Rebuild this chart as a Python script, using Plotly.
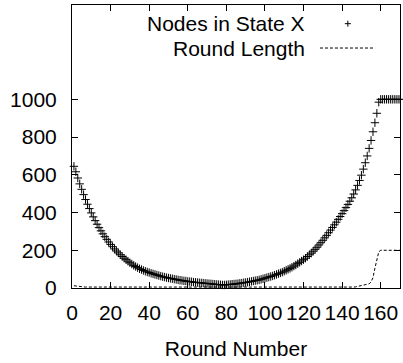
import plotly.graph_objects as go

rounds = list(range(1, 171))

nodes_in_state_x = [
    645, 616, 583, 552, 523, 495, 469, 444, 421, 398,
    377, 357, 338, 320, 303, 287, 272, 258, 244, 231,
    219, 207, 196, 186, 176, 167, 158, 150, 142, 134,
    127, 120, 114, 108, 102, 98, 93, 89, 85, 82,
    78, 75, 72, 69, 66, 63, 60, 58, 55, 53,
    51, 49, 47, 45, 43, 41, 40, 38, 37, 35,
    34, 33, 31, 30, 29, 28, 27, 26, 25, 24,
    23, 22, 21, 20, 19, 18, 17, 16, 16, 17,
    18, 19, 20, 21, 22, 23, 25, 26, 28, 29,
    31, 33, 35, 37, 39, 41, 43, 46, 49, 52,
    55, 58, 61, 64, 68, 72, 76, 80, 84, 89,
    94, 99, 104, 110, 116, 122, 129, 136, 143, 150,
    158, 167, 176, 185, 195, 205, 216, 228, 240, 253,
    266, 279, 293, 307, 321, 335, 349, 364, 379, 394,
    410, 426, 443, 460, 478, 498, 520, 544, 570, 598,
    630, 664, 700, 740, 782, 828, 876, 926, 985, 1000,
    1000, 1000, 1000, 1000, 1000, 1000, 1000, 1000, 1000, 1000,
]

round_length = [
    12, 10, 9, 8, 7, 6, 5, 5, 4, 4,
    3, 3, 3, 2, 2, 2, 2, 2, 1, 1,
    1, 1, 1, 1, 1, 1, 1, 1, 1, 1,
    1, 1, 1, 1, 1, 1, 1, 1, 1, 1,
    1, 1, 1, 1, 1, 1, 1, 1, 1, 1,
    1, 1, 1, 1, 1, 1, 1, 1, 1, 1,
    1, 1, 1, 1, 1, 1, 1, 1, 1, 1,
    1, 1, 1, 1, 1, 1, 1, 1, 1, 1,
    1, 1, 1, 1, 1, 1, 1, 1, 1, 1,
    1, 1, 1, 1, 1, 1, 1, 1, 1, 1,
    1, 1, 1, 1, 1, 1, 1, 1, 1, 1,
    1, 1, 1, 1, 1, 1, 1, 1, 1, 1,
    1, 1, 1, 1, 1, 1, 1, 1, 1, 1,
    1, 1, 1, 1, 1, 1, 1, 1, 1, 1,
    2, 2, 3, 3, 4, 5, 6, 8, 9, 10,
    12, 14, 17, 22, 32, 55, 105, 155, 192, 200,
    200, 200, 200, 200, 200, 200, 200, 200, 200, 200,
]

x_ticks = [0, 20, 40, 60, 80, 100, 120, 140, 160]
y_ticks = [0, 200, 400, 600, 800, 1000]
legend_labels = ["Nodes in State X", "Round Length"]

FONT = "Liberation Sans"
FS = 21

fig = go.Figure()
fig.add_trace(go.Scatter(
    x=rounds, y=nodes_in_state_x, mode="markers", name=legend_labels[0],
    marker=dict(symbol="cross-thin-open", size=6, color="black",
                line=dict(color="black", width=1)),
    showlegend=False, cliponaxis=False,
))
fig.add_trace(go.Scatter(
    x=rounds, y=round_length, mode="lines", name=legend_labels[1],
    line=dict(color="black", width=1, dash="3px,2px"),
    showlegend=False,
))

# gnuplot-style key (text left, sample right)
fig.add_annotation(xref="paper", yref="paper", x=0.716, y=0.936,
                   text=legend_labels[0], showarrow=False, xanchor="right",
                   yanchor="middle", font=dict(family=FONT, size=FS, color="black"))
fig.add_annotation(xref="paper", yref="paper", x=0.716, y=0.848,
                   text=legend_labels[1], showarrow=False, xanchor="right",
                   yanchor="middle", font=dict(family=FONT, size=FS, color="black"))
# plus sample
px, py = 0.841, 0.934
dx, dy = 3 / 327.5, 3 / 282.5
fig.add_shape(type="line", xref="paper", yref="paper", x0=px - dx, x1=px + dx,
              y0=py, y1=py, line=dict(color="black", width=1))
fig.add_shape(type="line", xref="paper", yref="paper", x0=px, x1=px,
              y0=py - dy, y1=py + dy, line=dict(color="black", width=1))
# dashed sample
fig.add_shape(type="line", xref="paper", yref="paper", x0=0.756, x1=0.924,
              y0=0.848, y1=0.848, line=dict(color="black", width=1, dash="3px,2px"))

fig.update_xaxes(
    range=[0, 170], tickvals=x_ticks, ticks="inside", ticklen=6, tickcolor="black",
    mirror="ticks", showline=True, linecolor="black", linewidth=1,
    showgrid=False, zeroline=False, automargin=False, ticklabelstandoff=6,
    tickfont=dict(family=FONT, size=FS, color="black"),
    title=dict(text="Round Number", font=dict(family=FONT, size=FS, color="black"),
               standoff=18),
)
fig.update_yaxes(
    range=[0, 1500], tickvals=y_ticks, ticks="inside", ticklen=6, tickcolor="black",
    mirror="ticks", showline=True, linecolor="black", linewidth=1,
    showgrid=False, zeroline=False, automargin=False, ticklabelstandoff=10,
    tickfont=dict(family=FONT, size=FS, color="black"),
)
fig.update_layout(
    width=403, height=363,
    margin=dict(l=72, r=3, t=5, b=75, pad=0),
    plot_bgcolor="white", paper_bgcolor="white",
    font=dict(family=FONT, size=FS, color="black"),
    hovermode=False,
)
fig.write_html("out.html", config={"displayModeBar": False, "staticPlot": True},
               post_script="document.body.style.margin='0';document.body.style.overflow='hidden';")
